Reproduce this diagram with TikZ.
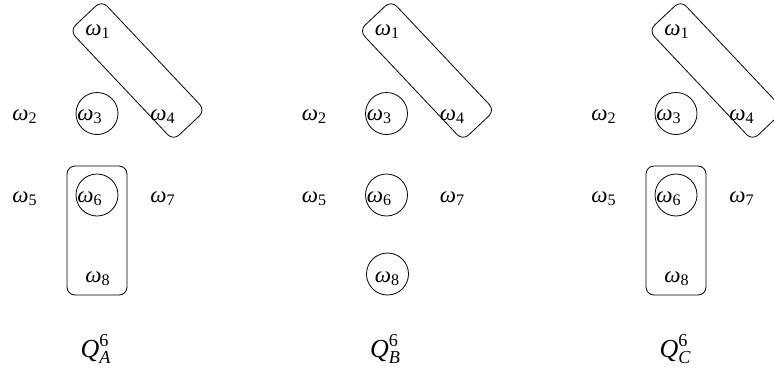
\documentclass[tikz,border=0pt]{standalone}
\usepackage{fontspec}
\setmainfont{Liberation Serif}
\newcommand{\om}[1]{\textit{ω}\textsubscript{#1}}
\newcommand{\qlab}[1]{$\mbox{\textit{Q}}^{\mbox{\scriptsize 6}}_{\mbox{\scriptsize\textit{#1}}}$}
\begin{document}
\begin{tikzpicture}[x=1pt,y=-1pt,
  lbl/.style={anchor=base west, inner sep=0pt, scale=2.3},
  qlbl/.style={anchor=base west, inner sep=0pt, scale=2.6},
  grp/.style={draw, line width=0.8pt, rounded corners=8pt, inner sep=0pt},
  singleton/.style={draw, circle, line width=0.8pt, minimum size=42pt, inner sep=0pt},
  diag/.style={draw, line width=0.8pt, rounded corners=8pt, rotate=-46.7, minimum width=151pt, minimum height=44pt, inner sep=0pt}]
\useasboundingbox (0,0) rectangle (774,367);
% Panel A
\begin{scope}[name prefix=A-]
  \node[lbl] (w1) at (85,35) {\om{1}};
  \node[lbl] (w2) at (12,120) {\om{2}};
  \node[lbl] (w3) at (77,120) {\om{3}};
  \node[lbl] (w4) at (150,120) {\om{4}};
  \node[lbl] (w5) at (12,202) {\om{5}};
  \node[lbl] (w6) at (77,202) {\om{6}};
  \node[lbl] (w7) at (150,202) {\om{7}};
  \node[lbl] (w8) at (85,282) {\om{8}};
  \node[diag] (g14) at (137.5,70.5) {};
  \node[singleton] (c3) at (97,113.5) {};
  \node[singleton] (c6) at (97,195) {};
  \node[grp, minimum width=60pt, minimum height=129pt] (g68) at (97,230.5) {};
  \node[qlbl] (q) at (80,357) {\qlab{A}};
\end{scope}
% Panel B
\begin{scope}[name prefix=B-, xshift=289.5pt]
  \node[lbl] (w1) at (85,35) {\om{1}};
  \node[lbl] (w2) at (12,120) {\om{2}};
  \node[lbl] (w3) at (77,120) {\om{3}};
  \node[lbl] (w4) at (150,120) {\om{4}};
  \node[lbl] (w5) at (12,202) {\om{5}};
  \node[lbl] (w6) at (77,202) {\om{6}};
  \node[lbl] (w7) at (150,202) {\om{7}};
  \node[lbl] (w8) at (85,282) {\om{8}};
  \node[diag] (g14) at (137.5,70.5) {};
  \node[singleton] (c3) at (97,113.5) {};
  \node[singleton] (c6) at (97,195) {};
  \node[singleton] (c8) at (98,274) {};
  \node[qlbl] (q) at (80,357) {\qlab{B}};
\end{scope}
% Panel C
\begin{scope}[name prefix=C-, xshift=579pt]
  \node[lbl] (w1) at (85,35) {\om{1}};
  \node[lbl] (w2) at (12,120) {\om{2}};
  \node[lbl] (w3) at (77,120) {\om{3}};
  \node[lbl] (w4) at (150,120) {\om{4}};
  \node[lbl] (w5) at (12,202) {\om{5}};
  \node[lbl] (w6) at (77,202) {\om{6}};
  \node[lbl] (w7) at (150,202) {\om{7}};
  \node[lbl] (w8) at (85,282) {\om{8}};
  \node[diag] (g14) at (137.5,70.5) {};
  \node[singleton] (c3) at (97,113.5) {};
  \node[singleton] (c6) at (97,195) {};
  \node[grp, minimum width=60pt, minimum height=129pt] (g68) at (97,230.5) {};
  \node[qlbl] (q) at (80,357) {\qlab{C}};
\end{scope}
\end{tikzpicture}
\end{document}
